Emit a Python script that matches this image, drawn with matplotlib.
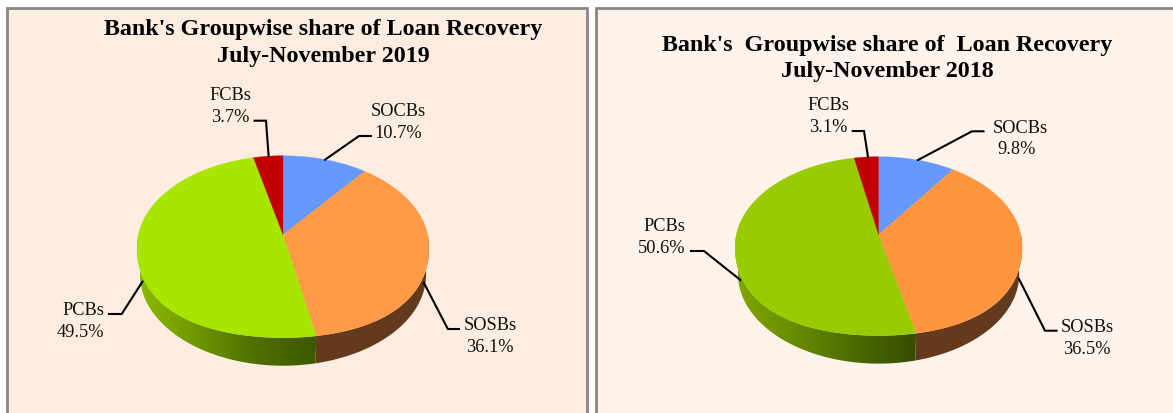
import numpy as np
import matplotlib
matplotlib.use("Agg")
import matplotlib.pyplot as plt
from matplotlib.patches import Polygon, Rectangle
from matplotlib.colors import LinearSegmentedColormap

plt.rcParams['font.family'] = ['Liberation Serif', 'DejaVu Serif']

# data
groups = ["SOCBs", "SOSBs", "PCBs", "FCBs"]
share_2019 = [10.7, 36.1, 49.5, 3.7]
share_2018 = [9.8, 36.5, 50.6, 3.1]
title_2019 = "Bank's Groupwise share of Loan Recovery\nJuly-November 2019"
title_2018 = "Bank's  Groupwise share of  Loan Recovery\nJuly-November 2018"

top_2019 = ["#6699FF", "#FF9A47", "#A6E600", "#C00000"]
top_2018 = ["#6699FF", "#FF963F", "#99CC00", "#C00000"]
wall_brown = "#643A1C"

W, H = 1173, 414


# circle point (angle clockwise from 12 o'clock) to picture, tilted pie has its
# centre above the middle of the ellipse
def project(theta, g):
    X, Y = np.sin(theta), np.cos(theta)
    w = 1 + g["k"]*Y
    return g["cx"] + g["d"]*X/w, g["cy"] - g["c"]*Y/w


# top face, front half is a bit fuller than a true ellipse
def project_top(theta, g):
    x, y = project(theta, g)
    X, Y = np.sin(theta), np.cos(theta)
    return x, y + 15*X**2*np.clip(-Y, 0, None)


def arc(start, end, g):
    n = max(int(abs(end-start)*60), 2)
    x, y = project_top(np.linspace(start, end, n), g)
    return np.column_stack([x, y])


def draw_wall(ax, start, end, g, color=None, cmap=None):
    if end <= start:
        return
    upper = arc(start, end, g)
    # outer rim is the plain ellipse, slightly narrower, pushed down
    x, y = project(np.linspace(end, start, len(upper)), g)
    lower = np.column_stack([g["cx"] + (x-g["cx"])*0.98, y + g["depth"]])
    poly = Polygon(np.vstack([upper, lower]), closed=True, fc=color or "none", ec="none", zorder=2)
    ax.add_patch(poly)
    if cmap is not None:
        x0, x1 = upper[:, 0].min(), upper[:, 0].max()
        grad = np.linspace(0, 1, 256).reshape(1, -1)
        im = ax.imshow(grad, cmap=cmap, extent=[x0, x1, H, 0], aspect="auto", zorder=2)
        im.set_clip_path(poly)


def draw_pie(ax, values, colors, g):
    edges = np.cumsum([0] + list(values)) / sum(values) * 2*np.pi
    # walls only on the front half
    draw_wall(ax, max(edges[1], np.pi/2), edges[2], g, color=wall_brown)
    draw_wall(ax, edges[2], 1.5*np.pi, g, cmap=g["wall"])
    for i in range(len(values)):
        pts = np.vstack([[g["cx"], g["cy"]], arc(edges[i], edges[i+1], g)])
        ax.add_patch(Polygon(pts, closed=True, fc=colors[i], ec=colors[i], lw=0.2, zorder=3))


def draw_panel(ax, x0, x1, bg, title, title_xy, values, colors, g, labels, leaders):
    ax.add_patch(Rectangle((x0, 8.5), x1-x0, H, fc=bg, ec="#868686", lw=2, zorder=1))
    ax.text(title_xy[0], title_xy[1], title, ha="center", va="center", fontsize=17.3,
            fontweight="bold", linespacing=1.37, color="black", zorder=5)
    draw_pie(ax, values, colors, g)
    for name, val, pos, line in zip(groups, values, labels, leaders):
        ax.text(pos[0], pos[1] + 1.5, name, ha="center", va="center", fontsize=13.2, color="#111111", zorder=5)
        ax.text(pos[2], pos[3] + 1.5, "%.1f%%" % val, ha="center", va="center", fontsize=13.2, color="#111111", zorder=5)
        xs, ys = zip(*line)
        ax.plot(xs, ys, color="black", lw=1.5, solid_joinstyle="miter", zorder=4)


green_wall_19 = LinearSegmentedColormap.from_list("w19", ["#8DBB00", "#6E9600", "#4F6E00", "#3E5800"])
green_wall_18 = LinearSegmentedColormap.from_list("w18", ["#80A800", "#688C00", "#4C6A00", "#364C00"])

geom_19 = dict(cx=283, cy=235.7, d=144.7, c=89.4, k=0.132, depth=28, wall=green_wall_19)
geom_18 = dict(cx=878.6, cy=235.7, d=142.3, c=88, k=0.128, depth=28, wall=green_wall_18)

labels_19 = [(398, 110, 398, 132), (490, 324, 490, 346), (83, 309, 80, 331), (230, 94, 230, 116)]
leaders_19 = [[(371, 137), (359, 137), (325, 160.7)],
              [(459, 330), (447.8, 330), (424, 284)],
              [(109, 315), (121.7, 315), (142.4, 282.7)],
              [(254.5, 121.7), (266, 121.7), (268.6, 156.7)]]

labels_18 = [(1020, 127, 1017, 148), (1087.7, 326, 1087, 348), (664.6, 225, 661.5, 247), (828, 104, 828, 126)]
leaders_18 = [[(983.5, 132.3), (972, 132.3), (918, 161)],
              [(1056.5, 331.7), (1045, 331.7), (1019, 280)],
              [(691, 252), (704, 252), (740.4, 281)],
              [(852.7, 132), (864, 132), (868, 158)]]

fig = plt.figure(figsize=(W/100, H/100), dpi=100, facecolor="white")
ax = fig.add_axes([0, 0, 1, 1])

draw_panel(ax, 7, 587, "#FDEDE0", title_2019, (323.5, 43), share_2019, top_2019, geom_19, labels_19, leaders_19)
draw_panel(ax, 595.5, 1180, "#FEF3EA", title_2018, (887, 58.5), share_2018, top_2018, geom_18, labels_18, leaders_18)

ax.set_xlim(0, W)
ax.set_ylim(H, 0)
ax.axis("off")

plt.savefig("out.png", dpi=100)
